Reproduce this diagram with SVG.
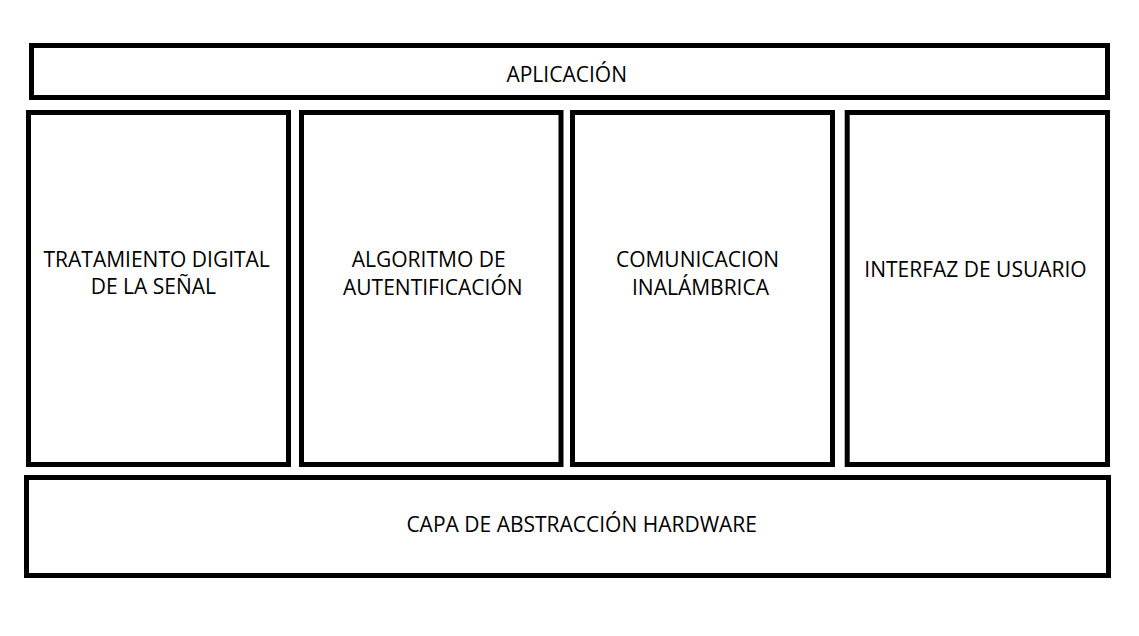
<svg xmlns="http://www.w3.org/2000/svg" width="1139" height="636" viewBox="0 0 1139 636">
<style>
.box{fill:#fff;stroke:#000;stroke-width:5}
.t{font-family:"Open Sans","Liberation Sans",sans-serif;font-size:21px;fill:#000;text-anchor:middle}
</style>
<rect width="1139" height="636" fill="#fff"/>
<g id="aplicacion"><rect class="box" x="31.5" y="45.5" width="1076" height="52"/><text class="t" x="566.7" y="82.3">APLICACIÓN</text></g>
<g id="tratamiento"><rect class="box" x="28.5" y="112.5" width="260" height="352"/><text class="t" x="156.7" y="266.7">TRATAMIENTO DIGITAL</text><text class="t" x="153.3" y="293.5">DE LA SEÑAL</text></g>
<g id="algoritmo"><rect class="box" x="301.5" y="112.5" width="259.5" height="352"/><text class="t" x="428.7" y="267.3">ALGORITMO DE</text><text class="t" x="432.8" y="295">AUTENTIFICACIÓN</text></g>
<g id="comunicacion"><rect class="box" x="572.5" y="112.5" width="260" height="352"/><text class="t" x="697.5" y="267.3">COMUNICACION</text><text class="t" x="700.5" y="295">INALÁMBRICA</text></g>
<g id="interfaz"><rect class="box" x="847.2" y="112.5" width="260.3" height="352"/><text class="t" x="975.5" y="277.3">INTERFAZ DE USUARIO</text></g>
<g id="hal"><rect class="box" x="26.5" y="477.5" width="1082" height="98"/><text class="t" x="581.7" y="532.3">CAPA DE ABSTRACCIÓN HARDWARE</text></g>
<g id="connectors"></g>
</svg>
